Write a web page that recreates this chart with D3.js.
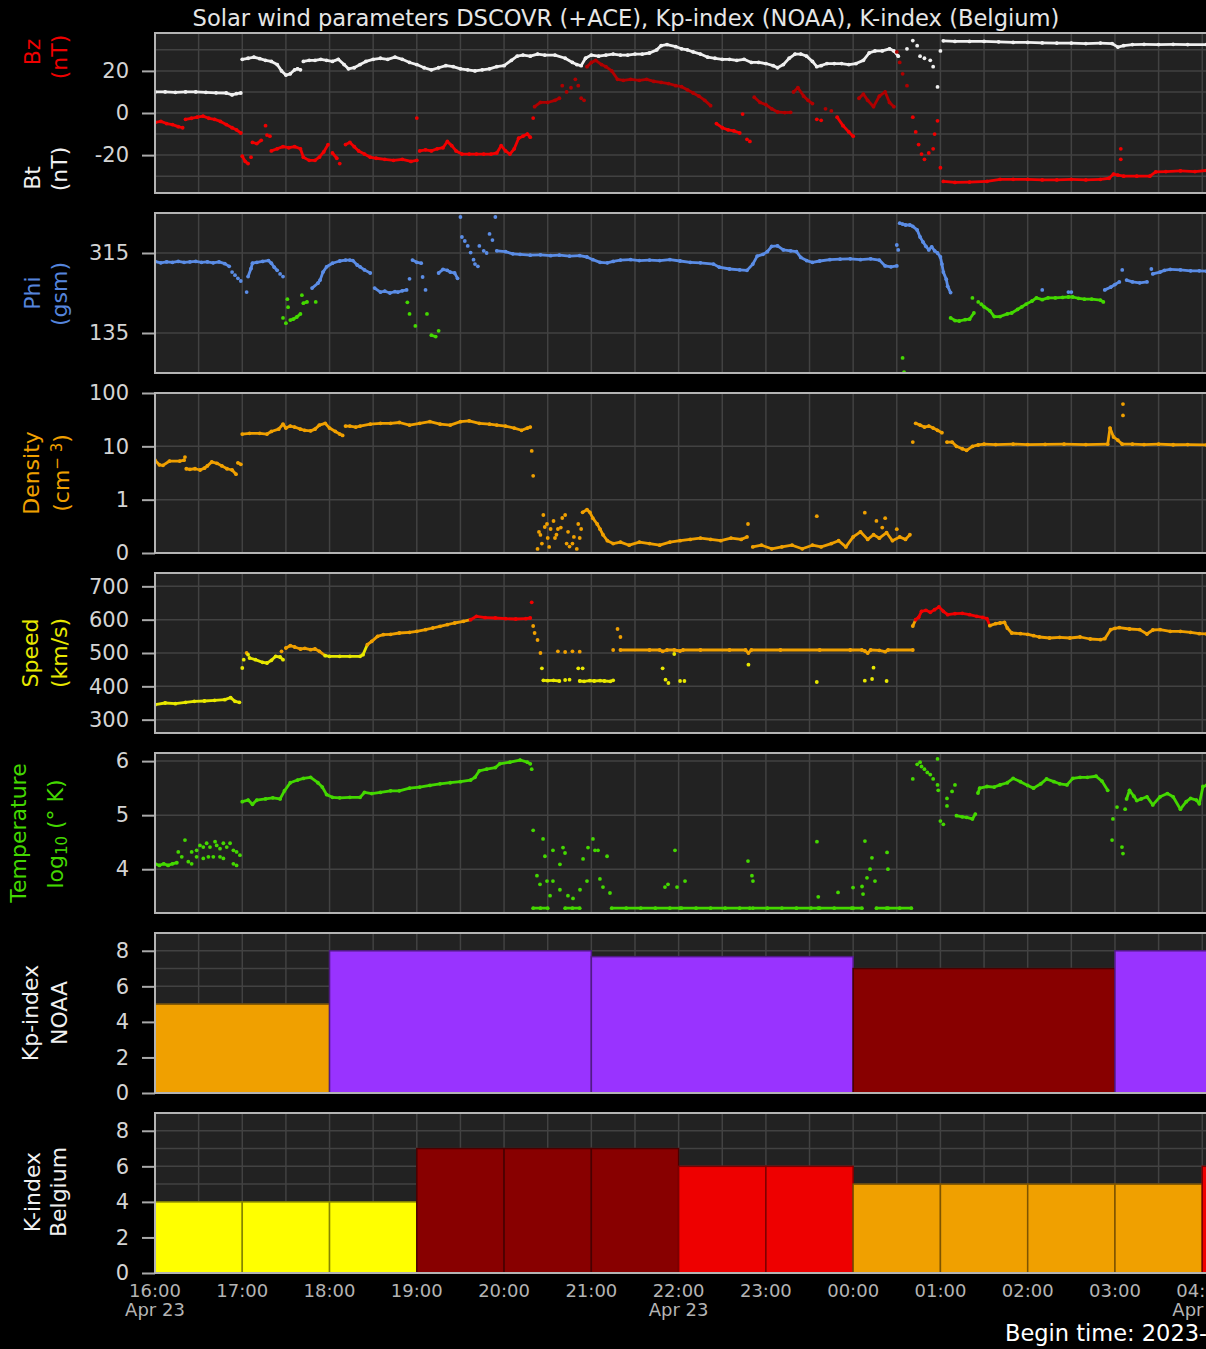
<!DOCTYPE html>
<html><head><meta charset="utf-8">
<script src="https://cdn.jsdelivr.net/npm/d3@7"></script>
<style>html,body{margin:0;padding:0;background:#000;}svg{display:block;font-family:"DejaVu Sans",sans-serif;}</style>
</head><body>
<svg id="c" width="1206" height="1349"></svg>
<script>
// ---------------- DATA (time in minutes after 16:00 UT, 23 Apr 2023) ----------------
const hourTicks = [0,60,120,180,240,300,360,420,480,540,600,660,720];
const hourLabels = ["16:00","17:00","18:00","19:00","20:00","21:00","22:00","23:00","00:00","01:00","02:00","03:00","04:00"];
const dateTicks = [0,360,720];
const dateLabels = ["Apr 23","Apr 23","Apr 24"];

const bzTicks=[-20,0,20], phiTicks=[135,315], denTicks=[0.1,1,10,100], denTickLabels=["0","1","10","100"];
const spdTicks=[300,400,500,600,700], tmpTicks=[4,5,6], kpTicks=[0,2,4,6,8];

const btLine=[[0,10],[7,10],[14,9.8],[21,10],[28,10],[35,9.8],[42,9.6],[49,9.5],[53,8.6],[56,9.2],[59,9.5],null,
[60,25.5],[64,26],[68,26.5],[72,25.8],[76,25],[80,24.5],[84,23],[87,20],[90,18],[93,18.6],[96,20.5],[98,21],[100,20.5],null,
[102,24.5],[106,25],[110,25],[114,25.5],[118,25],[122,24.5],[126,25.5],[130,23],[133,21],[137,21.5],[141,23],[145,24.5],[150,25.5],[155,26],[160,25.5],[165,26.5],[170,25.5],[175,24],[180,23],[185,21.5],[190,20.5],[195,21.5],[200,22.5],[205,22],[210,21],[215,20.5],[220,20],[225,20.5],[230,21],[235,22],[240,22.5],[245,25],[249,27],[253,27.5],[258,27],[263,28],[268,27.5],[275,27.5],[282,26],[287,24],[290,23],[293,22.5],[296,26],[300,27.5],[305,27],[310,27.5],[315,28],[320,27.5],[325,27.5],[330,28],[335,28],[340,28.5],[345,30],[348,32],[352,32.5],[358,31.5],[362,30.5],[366,30],[370,29],[375,28],[380,26.5],[385,26],[390,25.5],[395,25.5],[400,25],[405,25.5],[410,24],[415,24],[420,23.5],[425,22.5],[428,21.5],[432,23],[436,26],[440,28],[444,28],[448,27],[452,24.5],[455,22],[458,22.5],[462,23.5],[467,23.5],[472,23.5],[477,23],[482,23.5],[487,25],[491,28.5],[495,29.5],[500,29.5],[505,30.5],[508,29.5],[511,27],null,
[542,34.3],[550,34],[560,34],[570,34],[580,33.8],[590,33.5],[600,33.5],[610,33.3],[620,33.2],[630,33.2],[640,33],[650,33.2],[658,33],[662,31.3],[666,32],[672,32.5],[680,32.6],[690,32.5],[700,32.6],[710,32.5],[723,32.5]];
const btDots=[[517,30.5],[521,34.4],[524,32],[526,27],[529,26],[533,25],[535,22],[538,12.4],[540,29.5]];

const bzLine=[[0,-4.5],[4,-4],[8,-5],[12,-5.5],[16,-6.5],[19,-7],null,
[21,-3],[25,-2.5],[29,-2],[33,-1.5],[37,-2.5],[41,-3],[45,-4],[49,-5.5],[53,-7],[56,-8],[59,-9.5],null,
[60,-20.5],[62,-23],[64,-24],null,[67,-14],[70,-14.5],[73,-13],null,
[80,-18],[84,-17],[88,-16],[92,-16.5],[96,-16],[100,-17],[102,-21],[106,-22.5],[110,-22.5],[113,-21],[116,-18.5],[119,-15],null,
[122,-19],[125,-21.5],null,
[131,-15],[134,-14],[137,-16],[140,-18],[144,-19.5],[148,-21],[152,-21.5],[158,-22],[164,-22.5],[170,-22],[176,-23],[180,-22.5],null,
[182,-18],[186,-17.5],[190,-18],[194,-17],[198,-16.5],[201,-13.5],[204,-15.5],[207,-18],[211,-19.5],[216,-19.5],[221,-19.5],[226,-19.5],[231,-19.5],[235,-19],[238,-15.5],[241,-18],[244,-19.5],[247,-17],[250,-12],[253,-11],[256,-10],[258,-11.5],null,
[261,3],[265,5],[270,5],[275,6],[278,7],null,
[297,22],[300,24],[303,25],[307,23],[310,22],[314,20],[318,16],[322,15.5],[327,16],[333,15.5],[338,16],[343,15],[348,14.5],[353,14],[358,13],[362,12.5],[366,11],[370,9.5],[374,8],[378,6],[382,3.5],null,
[386,-5],[390,-7],[394,-8],[398,-8.5],[402,-9.5],null,
[412,7.5],[416,5],[420,4],[424,2],[428,0.5],[433,0.2],[437,0.3],null,
[439,10],[442,12],[446,8],[449,6],[452,4.5],null,
[469,-2],[473,-6],[477,-9],[480,-11],null,
[484,7],[487,9],[490,6],[494,3],[498,8],[502,10],[505,5],[508,3],null,
[542,-32.5],[550,-33],[560,-32.8],[572,-32.5],[581,-31.5],[590,-31.5],[600,-31.5],[610,-31.8],[620,-31.8],[630,-31.5],[640,-31.8],[650,-31.5],[656,-31],[659,-29],[662,-29.5],[666,-30],[675,-30],[684,-30],[688,-28],[695,-27.8],[705,-27.5],[715,-27.8],[723,-27.3]];
const bzDots=[[66,-21],[76,-6],[77,-10.5],[79,-11],[127,-24],[180,-2.4],[260,-2.4],[280,13],[283,10],[286,12],[289,16],[291,13],[293,7],[295,6],[404,-0.5],[407,-12.5],[409,-13.5],[455,-3],[458,-3.5],[461,2],[465,1],[510,29],[512,24],[514,18.6],[517,13],[521,-2],[523,-9],[525,-15],[527,-19.5],[529,-22],[532,-19],[535,-17],[536,-10],[538,-3.7],[540,-26],[664,-17],[664,-22]];

const phiLine=[[0,296],[4,293],[8,295],[12,294],[16,296],[20,294],[24,295],[28,296],[32,294],[36,295],[40,293],[44,295],[48,291],[51,285],null,
[64,262],[66,280],[67,292],[70,294],[74,296],[78,298],[80,292],[82,283],[84,276],null,
[93,164],[95,166],[97.5,171],[100,178],null,[102,202],[104.5,205],null,
[108,236],[112,247],[113.5,254],[115.5,272],[118,284],[122,292],[127,297],[131,299],[134,299],[136,298],[139,288],[141,284],[144,277],[148,270],null,
[151,236],[155,227],[158,229],[161.5,225],[165,228],[167,227],[170,230],[173,232],null,
[177,299],[180,294],[183,292],null,[190,130],[193,127],null,
[195,270],[198,278],[201,276],[203,272],[206,270],[208,258],null,
[235,320],[241,318],[246,313],[251,312],[258,310],[265,311],[272,309],[278,310],[285,308],[292,309],[297,306],[301,300],[306,294],[311,293],[315,296],[320,299],[327,300],[333,298],[340,299],[347,298],[354,300],[361,297],[368,294],[375,293],[384,290],[388,283],[395,279],[402,277],[407,276],[411,290],[414,308],[418,312],[421,318],[424,330],[428,331],[432,322],[437,320],[441,318],[444,305],[448,298],[452,294],[457,297],[464,300],[471,301],[478,302],[485,300],[492,302],[498,299],[502,286],[506,284],[510,286],null,
[512,382],[514,380],[516,378],[519,378],[521,375],[524,367],[526,351],[528,340],[530,330],[532,322],[534,329],[536,320],[538,315],[540,306],[541,290],[542,272],[544,256],[545,240],[547,226],null,
[547,169],[550,163],[553,162],[557,165],[560,166],[563,180],null,
[568,200],[570,194],[574,185],[577,172],[581,172],[586,178],[589,180],[593,188],[596,194],[599,200],[603,207],[606,214],[610,210],[614,214],[619,214],[624,215],[628,216],[631,216],[635,213],[639,211],[644,211],[650,209],[652,205],null,
[653,232],[657,238],[660,244],[663,250],null,[668,254],[672,250],[677,248],[682,250],null,
[686,268],[691,272],[694,276],[698,278],[705,277],[712,275],[718,275],[723,274]];
const phiDots=[[53,272],[55,265],[57,258],[59,252],[63,227],[86,268],[88,262],[88,169],[90,157],[91,211],[91.5,193],[101,220],[110.5,205],[175,257],[184,261],[186,232],[173.5,204],[175,178],[179,151],[187,178],[195,140],[210,396],[211,351],[213,342],[215,331],[217,316],[219,300],[220,290],[222,285],[223,331],[226,320],[228,315],[230,358],[232,344],[234,396],[510,333],[511,322],[514,79],[515,47],[562,214],[566,205],[610,232],[628,227],[630,227],[665,277],[685,279]];

const denLine=[[0,5.5],[3,4.5],[5.5,4.4],[10,5.3],[17,5.3],[20,5.5],null,
[21.5,3.8],[24,3.7],[27.5,3.8],[31,3.6],[34,3.9],[36,4.3],[39,5.1],[42.6,4.8],[46,4.3],[49.5,3.8],[53,3.6],[55.7,3.0],null,
[57,4.9],[59,4.6],null,
[60,17],[65,17.5],[72,17.5],[77,17],[80,19],[85,21],[88,26],[90,22],[93,24],[96,23],[100,21],[103,20],[107,19.5],[110,21],[113,25],[117,27],[120,22],[124,19],[127,17],[129,16],null,
[131,24],[134,24],[138,23],[141,24],[148,26],[155,27],[162,27],[168,28],[175,25],[182,27],[189,29],[196,26],[203,25],[210,29],[216,30],[223,27],[230,26],[235,25],[241,24],[247,22],[252,20],[256,22],[258,23],null,
[294,0.58],[297,0.65],[299,0.58],[301,0.45],[304,0.35],[306,0.28],[308,0.22],[311,0.17],[315,0.15],[320,0.16],[326,0.14],[333,0.16],[340,0.15],[347,0.14],[354,0.16],[361,0.17],[368,0.18],[375,0.19],[382,0.18],[389,0.17],[396,0.19],[403,0.18],[407,0.2],null,
[411,0.13],[417,0.14],[424,0.12],[431,0.13],[438,0.14],[445,0.12],[452,0.14],[458,0.13],[465,0.15],[470,0.17],[475,0.13],[480,0.2],[485,0.25],[490,0.18],[494,0.22],[498,0.19],[503,0.24],[507,0.17],[512,0.2],[516,0.18],[519,0.22],null,
[523,27],[526,25],[529,23],[532,24],[535,22],[538,20],[541,18],null,
[544.5,12],[548,12],[551,10],[555,9],[558,8.4],[562,10],[566,10.6],[570,11],[578,10.8],[590,11],[600,10.8],[612,10.9],[625,11],[640,10.8],[655,11],[656.6,22],[659,15],[662,13],[665,11],[672,11],[680,10.8],[690,11],[700,10.7],[710,10.8],[723,10.6]];
const denDots=[[20.6,6.3],[259,8.2],[260,2.8],[263,0.119],[264,0.248],[265,0.218],[266,0.15],[267,0.516],[268,0.307],[269.5,0.35],[270,0.191],[271,0.13],[272,0.282],[274,0.398],[275,0.191],[276,0.22],[277,0.282],[279,0.3],[280,0.453],[282,0.516],[283,0.15],[284,0.25],[285,0.132],[287,0.15],[288,0.2],[290,0.119],[291,0.35],[292,0.191],[293,0.282],[407.7,0.35],[455,0.49],[488,0.57],[496,0.4],[502,0.45],[500,0.3],[510,0.28],[521,12],[665.5,62],[665.5,38]];

const spdLine=[[0,345],[7,350],[14,348],[21,352],[27,355],[34,356],[41,358],[48,360],[52,366],[55,355],[58,352],null,
[65,485],[69,480],[74,472],[77,470],[80,478],[83,490],[86,488],[88,480],null,
[90,515],[93,522],[96,518],[100,512],[103,514],[107,510],[110,512],[113,505],[117,492],[120,490],[127,490],[134,490],[141,490],[143,495],[146,525],[149,535],[153,550],[157,555],[162,556],[168,560],[175,562],[180,565],[186,570],[191,575],[196,580],[201,585],[206,590],[212,595],[217,600],[221,610],[227,606],[234,605],[241,603],[248,602],[255,603],[258,605],null,
[267,418],[270,417],[274,418],[278,416],null,
[292,416],[295,415],[299,417],[302,416],[306,417],[309,416],[313,415],[315,418],null,
[320,509],[340,509],[347,509],[349,505],[352,509],[357,509],[361,506],[363,509],[375,509],[395,509],[406,509],[408,500],[410,509],[430,509],[457,509],[478,509],[486,509],[488,506],[490,500],[492,509],[498,508],[502,504],[504,509],[521,509],null,
[521,581],[523,600],[525,607],[527,625],[530,628],[533,622],[536,630],[539,638],[542,625],[545,615],[550,618],[555,619],[560,615],[565,610],[569,607],[572,603],[574,582],[578,588],[581,590],[584,592],[586,575],[589,560],[595,558],[600,556],[604,552],[608,548],[615,545],[622,547],[629,545],[636,548],[643,542],[650,540],[653,543],[657,570],[660,574],[663,576],[670,572],[677,570],[682,557],[686,569],[691,570],[698,565],[705,565],[712,562],[718,558],[723,557]];
const spdDots=[[60,455],[61,480],[63,500],[64,495],[87,505],[259,652],[260,581],[261,560],[263,539],[265,500],[266,454],[282,419],[285,420],[277,505],[282,503],[287,505],[292,504],[291,454],[294,454],[315,509],[318,572],[320,548],[349,454],[351,420],[353,410],[357,497],[361,416],[364,416],[408,465],[455,413],[488,417],[493,422],[494,456],[503,416]];

const tmpLine=[[0,4.1],[3,4.07],[6,4.1],[9,4.07],[12,4.1],[15,4.12],null,
[60,5.25],[64,5.28],[67,5.2],[70,5.28],[76,5.3],[81,5.32],[86,5.3],[89,5.45],[93,5.6],[98,5.65],[102,5.68],[107,5.7],[112,5.6],[115,5.52],[118,5.38],[122,5.33],[127,5.32],[134,5.33],[141,5.33],[144,5.42],[149,5.4],[155,5.42],[162,5.45],[168,5.45],[175,5.5],[182,5.52],[189,5.55],[196,5.58],[203,5.6],[210,5.62],[217,5.65],[220,5.7],[223,5.82],[228,5.85],[234,5.88],[237,5.95],[244,5.98],[251,6.02],[256,5.98],[258,5.95],null,
[260,3.28],[265,3.28],[270,3.28],null,[282,3.28],[287,3.28],[292,3.28],null,
[314,3.28],[324,3.28],[334,3.28],[344,3.28],[354,3.28],[361,3.28],null,
[362,3.28],[372,3.28],[382,3.28],[392,3.28],[402,3.28],[409,3.28],null,
[411,3.28],[421,3.28],[431,3.28],[441,3.28],[451,3.28],[456,3.28],null,
[457,3.28],[467,3.28],[479,3.28],null,[480,3.28],[486,3.28],null,[496,3.28],[503,3.28],null,[504,3.28],[512,3.28],[520,3.28],null,
[551,4.99],[555,4.97],[558,4.96],[562,4.93],[564,5.02],null,
[565.8,5.41],[567,5.5],[572,5.53],[577,5.52],[581,5.56],[586,5.6],[590,5.68],[595,5.62],[600,5.55],[604,5.5],[609,5.58],[613,5.67],[618,5.62],[622,5.58],[627,5.56],[631,5.68],[636,5.7],[641,5.7],[647,5.72],[651,5.63],[655,5.46],null,
[668,5.3],[670,5.46],[673,5.35],[675,5.27],[678,5.3],[682,5.34],[686,5.19],[691,5.34],[696,5.4],[700,5.34],[705,5.11],[709,5.25],[712,5.31],[716,5.28],[718,5.21],[720.5,5.53],[723,5.55]];
const tmpDots=[[16,4.32],[18.4,4.23],[20.6,4.54],[22.9,4.14],[25.2,4.1],[25.2,4.32],[28.6,4.35],[28.6,4.23],[30.9,4.44],[33.2,4.41],[33.2,4.2],[35.5,4.48],[36.7,4.23],[37.8,4.41],[40.1,4.23],[41.3,4.51],[42.4,4.44],[44.7,4.38],[44.7,4.23],[47,4.48],[47,4.2],[49.3,4.41],[51.6,4.48],[53.9,4.35],[53.9,4.1],[56.1,4.32],[56.1,4.07],[58.4,4.26],
[259,5.85],[260,4.72],[266.8,4.56],[268.1,4.24],[273.6,4.35],[280.5,4.4],[281.9,4.3],[278.4,4.09],[262.6,3.88],[264.7,3.72],[269.5,3.78],[273.6,3.78],[271.6,3.51],[278.4,3.62],[283.9,3.51],[287.4,3.46],[292.2,3.62],[297,3.78],[294.3,4.19],[297.7,4.4],[301.1,4.56],[302.5,4.35],[304.6,4.35],[305.9,3.82],[308,3.67],[310.8,4.24],[312.8,3.56],[350.6,3.67],[352.7,3.72],[357.5,4.35],[358.9,3.67],[364.4,3.78],[407.7,4.15],[410.4,3.88],[411.1,3.78],[455.1,4.51],[456,3.49],[469.6,3.57],[479.9,3.66],[486.1,3.68],[486.8,3.54],[489.5,3.84],[491.6,4.0],[492.9,4.21],[495,3.78],[488.1,4.52],[503.3,4.31],[503.9,4.0],
[521,5.67],[524,5.94],[526,5.98],[527,5.9],[529,5.85],[531,5.79],[533,5.75],[535,5.67],[538,6.04],[538,5.56],[538.5,5.46],[540,4.89],[542,4.83],[544.5,5.31],[544.5,5.17],[548,5.44],[550,5.56],[658,4.54],[658.6,4.93],[661.4,5.15],[664.8,4.41],[665.5,4.29],[667,5.11]];

const kpStart=[-60,120,300,480,660];
const kpValue=[5,8,7.67,7,8];
const kStart=[0,60,120,180,240,300,360,420,480,540,600,660,720];
const kValue=[4,4,4,7,7,7,6,6,5,5,5,5,6];

// ---------------- DRAWING ----------------
const W=1206,H=1349,L=155,RIGHT=1240,PH=160;
const svg=d3.select('#c');
svg.append('rect').attr('width',W).attr('height',H).attr('fill','#000');
const x=d3.scaleLinear().domain([0,720]).range([L,L+12*87.27]);

const C={bt:'#f0f0f0',bzN:'#f00000',bzP:'#b00000',phiB:'#5b8de6',phiG:'#44d800',den:'#f0a000',
  spdY:'#e8e800',spdO:'#f0a000',spdR:'#f00000',tmp:'#44d800',grid:'#424242',border:'#b4b4b4',bg:'#222222',tick:'#d4d4d4'};
const kColor=v=>v>=7.67?'#9933ff':v>=7?'#880000':v>=6?'#ee0000':v>=5?'#f0a000':v>=4?'#ffff00':'#44d800';

const panels=[
 {top:33, y:d3.scaleLinear().domain([-38,38]), grid:[-30,-20,-10,0,10,20,30], ticks:bzTicks, fmt:d=>d},
 {top:213,y:d3.scaleLinear().domain([45,405]), grid:[135,315], ticks:phiTicks, fmt:d=>d},
 {top:393,y:d3.scaleLog().domain([0.1,100]), grid:[1,10], ticks:denTicks, fmt:(d,i)=>denTickLabels[i]},
 {top:573,y:d3.scaleLinear().domain([260,740]), grid:[300,400,500,600,700], ticks:spdTicks, fmt:d=>d},
 {top:753,y:d3.scaleLinear().domain([3.19,6.15]), grid:[4,5,6], ticks:tmpTicks, fmt:d=>d},
 {top:933,y:d3.scaleLinear().domain([0,9]), grid:[1,2,3,4,5,6,7,8], ticks:kpTicks, fmt:d=>d},
 {top:1113,y:d3.scaleLinear().domain([0,9]), grid:[1,2,3,4,5,6,7,8], ticks:kpTicks, fmt:d=>d}
];
panels.forEach((p,i)=>{
  p.y.range([p.top+PH,p.top]);
  const defs=svg.append('defs');
  defs.append('clipPath').attr('id','cp'+i).append('rect').attr('x',L).attr('y',p.top).attr('width',RIGHT-L).attr('height',PH);
  p.g=svg.append('g');
  p.g.append('rect').attr('x',L).attr('y',p.top).attr('width',RIGHT-L).attr('height',PH).attr('fill',C.bg);
  const gg=p.g.append('g');
  gg.selectAll('line.v').data(d3.range(30,780,30)).join('line')
    .attr('x1',d=>x(d)).attr('x2',d=>x(d)).attr('y1',p.top).attr('y2',p.top+PH).attr('stroke',C.grid).attr('stroke-width',1.5);
  gg.selectAll('line.h').data(p.grid).join('line')
    .attr('x1',L).attr('x2',RIGHT).attr('y1',d=>p.y(d)).attr('y2',d=>p.y(d)).attr('stroke',C.grid).attr('stroke-width',1.5);
  p.data=p.g.append('g').attr('clip-path','url(#cp'+i+')');
  const ax=svg.append('g').attr('transform',`translate(${L},0)`)
    .call(d3.axisLeft(p.y).tickValues(p.ticks).tickSize(13).tickPadding(13).tickFormat(p.fmt));
  ax.select('.domain').remove();
  ax.selectAll('line').attr('stroke','#aaaaaa').attr('stroke-width',2);
  ax.selectAll('text').attr('fill',C.tick).attr('font-size',21).attr('font-family','"DejaVu Sans",sans-serif');
});

function drawSeries(g,y,line,dots,col){
  const segs=[];
  for(let i=0;i<line.length-1;i++){const a=line[i],b=line[i+1]; if(a&&b) segs.push([a,b]);}
  g.append('g').selectAll('line').data(segs).join('line')
   .attr('x1',d=>x(d[0][0])).attr('y1',d=>y(d[0][1])).attr('x2',d=>x(d[1][0])).attr('y2',d=>y(d[1][1]))
   .attr('stroke',d=>col(d[0][1])).attr('stroke-width',2.8).attr('stroke-linecap','round');
  const pts=line.filter(Boolean).concat(dots);
  g.append('g').selectAll('circle').data(pts).join('circle')
   .attr('cx',d=>x(d[0])).attr('cy',d=>y(d[1])).attr('r',1.9).attr('fill',d=>col(d[1]));
}
drawSeries(panels[0].data,panels[0].y,btLine,btDots,()=>C.bt);
drawSeries(panels[0].data,panels[0].y,bzLine,bzDots,v=>v<0?C.bzN:C.bzP);
drawSeries(panels[1].data,panels[1].y,phiLine,phiDots,v=>v<225?C.phiG:C.phiB);
drawSeries(panels[2].data,panels[2].y,denLine,denDots,()=>C.den);
drawSeries(panels[3].data,panels[3].y,spdLine,spdDots,v=>v>=600?C.spdR:v>=500?C.spdO:C.spdY);
drawSeries(panels[4].data,panels[4].y,tmpLine,tmpDots,()=>C.tmp);

function drawBars(p,starts,vals,dur){
  p.data.selectAll('rect.bar').data(starts.map((s,i)=>[s,vals[i]])).join('rect')
   .attr('x',d=>x(d[0])).attr('width',d=>x(d[0]+dur)-x(d[0])).attr('y',d=>p.y(d[1])).attr('height',d=>p.y(0)-p.y(d[1]))
   .attr('fill',d=>kColor(d[1])).attr('stroke',d=>d3.color(kColor(d[1])).darker(1.8)).attr('stroke-width',1.5);
}
drawBars(panels[5],kpStart,kpValue,180);
drawBars(panels[6],kStart,kValue,60);

// borders on top
panels.forEach(p=>{
  svg.append('rect').attr('x',L).attr('y',p.top).attr('width',RIGHT-L).attr('height',PH)
    .attr('fill','none').attr('stroke',C.border).attr('stroke-width',2);
});

// x axis labels
const xl=svg.append('g').attr('font-size',18).attr('fill','#b4b4b4').attr('text-anchor','middle');
xl.selectAll('text.h').data(hourTicks).join('text').attr('x',d=>x(d)).attr('y',1297).text((d,i)=>hourLabels[i]);
xl.selectAll('text.d').data(dateTicks).join('text').attr('class','d').attr('x',d=>x(d)).attr('y',1316).text((d,i)=>dateLabels[i]);

// title & footer
svg.append('text').attr('x',626).attr('y',26).attr('text-anchor','middle').attr('font-size',22.6).attr('fill','#e6e6e6')
  .text('Solar wind parameters DSCOVR (+ACE), Kp-index (NOAA), K-index (Belgium)');
svg.append('text').attr('x',1005).attr('y',1341).attr('font-size',22.5).attr('fill','#ffffff')
  .text('Begin time: 2023-04-23 16:00 UT');

// axis titles (rotated)
function vlabel(txt,xb,yc,col,build){
  const t=svg.append('text').attr('transform',`translate(${xb},${yc}) rotate(-90)`).attr('text-anchor','middle')
    .attr('font-size',22).attr('fill',col);
  if(build) build(t); else t.text(txt);
}
const RED='#ee0000',WHITE='#f0f0f0',BLUE='#5585dc',ORANGE='#f0a000',YEL='#e8e800',GRN='#44d800';
vlabel('Bz',40,52,RED); vlabel('(nT)',67,57,RED);
vlabel('Bt',40,178,WHITE); vlabel('(nT)',67,169,WHITE);
vlabel('Phi',40,293,BLUE); vlabel('(gsm)',67,294,BLUE);
vlabel('Density',39,473,ORANGE);
vlabel('',69,473,ORANGE,t=>{t.append('tspan').text('(cm');t.append('tspan').attr('font-size',15).attr('baseline-shift','45%').text('\u2212 3');t.append('tspan').text(')');});
vlabel('Speed',38,653,YEL); vlabel('(km/s)',67,653,YEL);
vlabel('Temperature',26,833,GRN);
vlabel('',63,834,GRN,t=>{t.append('tspan').text('log');t.append('tspan').attr('font-size',15).attr('baseline-shift','-25%').text('10');t.append('tspan').text(' (° K)');});
vlabel('Kp-index',38,1013,WHITE); vlabel('NOAA',67,1013,WHITE);
vlabel('K-index',40,1192,WHITE); vlabel('Belgium',66,1192,WHITE);
</script>
</body></html>
